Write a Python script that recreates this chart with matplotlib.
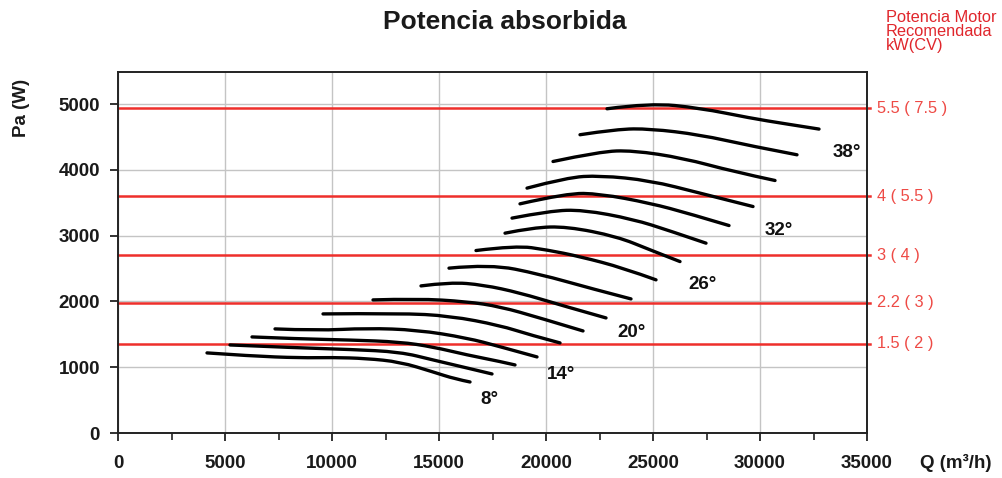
import matplotlib
matplotlib.use("Agg")
import matplotlib.pyplot as plt
from matplotlib.ticker import MultipleLocator
from matplotlib.path import Path
from matplotlib.patches import PathPatch

plt.rcParams['font.family'] = ['Liberation Sans', 'DejaVu Sans']

# ---- data ----
angles = [8, 10, 12, 14, 16, 18, 20, 22, 24, 26, 28, 30, 32, 34, 36, 38]

q_8 = [4159, 6168, 8505, 10047, 11589, 13178, 14720, 15748, 16449]
pa_8 = [1218, 1172, 1142, 1149, 1134, 1081, 929, 822, 776]
q_10 = [5234, 8505, 10841, 13178, 14720, 16309, 17477]
pa_10 = [1339, 1294, 1271, 1233, 1111, 989, 898]
q_12 = [6262, 8505, 10841, 13178, 14720, 16309, 17851, 18552]
pa_12 = [1461, 1431, 1415, 1385, 1309, 1187, 1088, 1035]
q_14 = [7337, 9299, 11636, 13972, 16309, 17851, 19580]
pa_14 = [1583, 1557, 1594, 1568, 1446, 1313, 1157]
q_16 = [9580, 13178, 15514, 17851, 19253, 20655]
pa_16 = [1811, 1822, 1781, 1636, 1492, 1370]
q_18 = [11916, 13972, 16309, 17851, 19720, 21730]
pa_18 = [2024, 2044, 1998, 1922, 1750, 1552]
q_20 = [14159, 15514, 17057, 18785, 20655, 22804]
pa_20 = [2237, 2294, 2253, 2131, 1948, 1750]
q_22 = [15467, 17384, 19720, 22056, 23972]
pa_22 = [2507, 2568, 2415, 2202, 2039]
q_24 = [16729, 18598, 20047, 21589, 23599, 25141]
pa_24 = [2775, 2851, 2785, 2683, 2511, 2329]
q_26 = [18085, 19393, 20982, 23318, 24860, 26262]
pa_26 = [3039, 3125, 3140, 2988, 2785, 2607]
q_28 = [18412, 20187, 21729, 24066, 25795, 27477]
pa_28 = [3268, 3379, 3394, 3252, 3074, 2887]
q_30 = [18785, 20982, 22524, 24860, 26730, 28552]
pa_30 = [3485, 3648, 3638, 3496, 3333, 3155]
q_32 = [19113, 20982, 22524, 24860, 27197, 29674]
pa_32 = [3724, 3886, 3916, 3840, 3648, 3444]
q_34 = [20328, 22524, 24066, 26402, 28739, 30702]
pa_34 = [4129, 4281, 4297, 4181, 3977, 3840]
q_36 = [21589, 23318, 24860, 27197, 29533, 31729]
pa_36 = [4536, 4622, 4627, 4536, 4368, 4231]
q_38 = [22851, 24860, 27197, 29533, 31169, 32758]
pa_38 = [4931, 5018, 4942, 4790, 4703, 4622]

curves_q = [q_8, q_10, q_12, q_14, q_16, q_18, q_20, q_22,
            q_24, q_26, q_28, q_30, q_32, q_34, q_36, q_38]
curves_pa = [pa_8, pa_10, pa_12, pa_14, pa_16, pa_18, pa_20, pa_22,
             pa_24, pa_26, pa_28, pa_30, pa_32, pa_34, pa_36, pa_38]

angle_labels = ["8°", "14°", "20°", "26°", "32°", "38°"]
angle_label_q = [17337, 20701, 23972, 27290, 30889, 34066]
angle_label_pa = [502, 890, 1522, 2260, 3082, 4269]

motor_levels = [4940, 3600, 2700, 1980, 1360]
motor_labels = ["5.5 ( 7.5 )", "4 ( 5.5 )", "3 ( 4 )", "2.2 ( 3 )", "1.5 ( 2 )"]

x_ticks = [0, 5000, 10000, 15000, 20000, 25000, 30000, 35000]
y_ticks = [0, 1000, 2000, 3000, 4000, 5000]


def smooth_path(xs, ys):
    """Quadratic Bezier path using the read points as control points."""
    pts = list(zip(xs, ys))
    verts = [pts[0]]
    codes = [Path.MOVETO]
    n = len(pts)
    for i in range(1, n - 1):
        ctrl = pts[i]
        if i < n - 2:
            end = ((pts[i][0] + pts[i + 1][0]) / 2, (pts[i][1] + pts[i + 1][1]) / 2)
        else:
            end = pts[-1]
        verts += [ctrl, end]
        codes += [Path.CURVE3, Path.CURVE3]
    if n == 2:
        verts.append(pts[1])
        codes.append(Path.LINETO)
    return Path(verts, codes)


# ---- figure ----
fig = plt.figure(figsize=(10.02, 4.78), dpi=100)
ax = fig.add_axes([118/1002, 45/478, 749/1002, 361/478])

ax.set_xlim(0, 35000)
ax.set_ylim(0, 5490)
ax.set_xticks(x_ticks)
ax.set_yticks(y_ticks)
ax.xaxis.set_minor_locator(MultipleLocator(2500))
ax.grid(True, which='major', color='#c4c4c4', linewidth=1.0, zorder=0)
ax.set_axisbelow(True)

for s in ax.spines.values():
    s.set_linewidth(1.4)
    s.set_color('#222222')

ax.tick_params(axis='both', which='major', direction='out', length=6, width=1.3,
               labelsize=13.5, color='#222222')
ax.tick_params(axis='x', which='major', pad=10)
ax.tick_params(axis='y', which='major', pad=7)
ax.tick_params(axis='x', which='minor', direction='out', length=5, width=1.2, color='#222222')
for lbl in ax.get_xticklabels() + ax.get_yticklabels():
    lbl.set_fontweight('bold')
    lbl.set_color('#1a1a1a')

# motor power lines
red_line = '#ee2f2b'
red_text = '#ee4a45'
for lvl, lab in zip(motor_levels, motor_labels):
    ax.axhline(lvl, xmin=0, xmax=1.004, color=red_line, linewidth=1.8, zorder=2, clip_on=False)
    ax.text(1.013, lvl, lab, transform=ax.get_yaxis_transform(), color=red_text,
            fontsize=11.8, ha='left', va='center')

# fan curves
for q, pa in zip(curves_q, curves_pa):
    patch = PathPatch(smooth_path(q, pa), facecolor='none', edgecolor='black',
                      linewidth=2.4, capstyle='round', joinstyle='round', zorder=3)
    ax.add_patch(patch)

for lab, q, pa in zip(angle_labels, angle_label_q, angle_label_pa):
    ax.text(q, pa, lab, fontsize=13.5, fontweight='bold', ha='center', va='center',
            color='#111111', zorder=4)

fig.text(505/1002, 1 - 22/478, "Potencia absorbida", fontsize=19, fontweight='bold',
         ha='center', va='center', color='#1a1a1a')
fig.text(886/1002, 1 - 10/478, "Potencia Motor\nRecomendada\nkW(CV)", fontsize=11.8,
         color='#e0262c', ha='left', va='top', linespacing=0.9)
fig.text(22/1002, 1 - 108/478, "Pa (W)", fontsize=13.5, fontweight='bold', rotation=90,
         ha='center', va='center', color='#1a1a1a')
fig.text(956/1002, 1 - 463/478, "Q (m³/h)", fontsize=13.5, fontweight='bold',
         ha='center', va='center', color='#1a1a1a')

fig.savefig("out.png", dpi=100)
